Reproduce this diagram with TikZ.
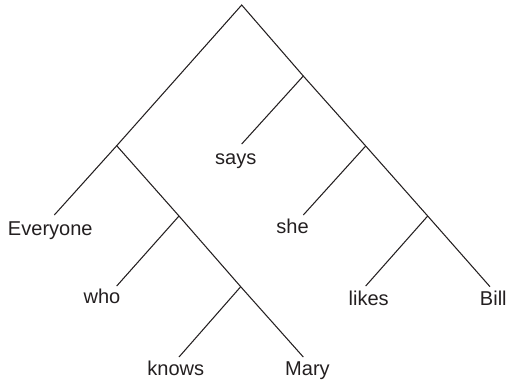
\documentclass[tikz,border=0pt]{standalone}
\usepackage{fontspec}
\setmainfont{Liberation Sans}
\usetikzlibrary{positioning}
\definecolor{ink}{HTML}{231F20}
\tikzset{
  branch/.style={draw=ink, line width=0.6pt, line join=miter},
  word/.style={text=ink, font=\fontsize{11.4}{13}\selectfont, inner sep=0pt, anchor=base}
}
\begin{document}
\begin{tikzpicture}[x=0.02cm,y=-0.02cm]
\useasboundingbox (0,0) rectangle (507,383);

% Verzweigungen
\coordinate (root) at (241.7,5);
\coordinate (subj) at (116.7,145.7);
\coordinate (rel) at (179,216);
\coordinate (relvp) at (240.7,286.7);
\coordinate (pred) at (303.3,76);
\coordinate (clause) at (365.7,146);
\coordinate (vp) at (427.7,216);

% Astenden
\coordinate (everyoneEnd) at (54.3,215);
\coordinate (whoEnd) at (116.7,286);
\coordinate (knowsEnd) at (179,357);
\coordinate (maryEnd) at (303.3,357);
\coordinate (saysEnd) at (241.7,144);
\coordinate (sheEnd) at (303.3,215);
\coordinate (likesEnd) at (365.7,286);
\coordinate (billEnd) at (490,286.7);

% Woerter
\node[word] (everyone) at (50.3,235) {Everyone};
\node[word] (who) at (102,303) {who};
\node[word] (knows) at (175.8,375.7) {knows};
\node[word] (mary) at (307.5,375.7) {Mary};
\node[word] (says) at (235.8,164) {says};
\node[word] (she) at (292.5,233.5) {she};
\node[word] (likes) at (368.7,305) {likes};
\node[word] (bill) at (493.3,305) {Bill};

% Aeste
\draw[branch] (everyoneEnd) -- (subj) -- (root) -- (pred) -- (clause) -- (vp) -- (billEnd);
\draw[branch] (subj) -- (rel) -- (relvp) -- (maryEnd);
\draw[branch] (rel) -- (whoEnd);
\draw[branch] (relvp) -- (knowsEnd);
\draw[branch] (pred) -- (saysEnd);
\draw[branch] (clause) -- (sheEnd);
\draw[branch] (vp) -- (likesEnd);

\end{tikzpicture}
\end{document}
